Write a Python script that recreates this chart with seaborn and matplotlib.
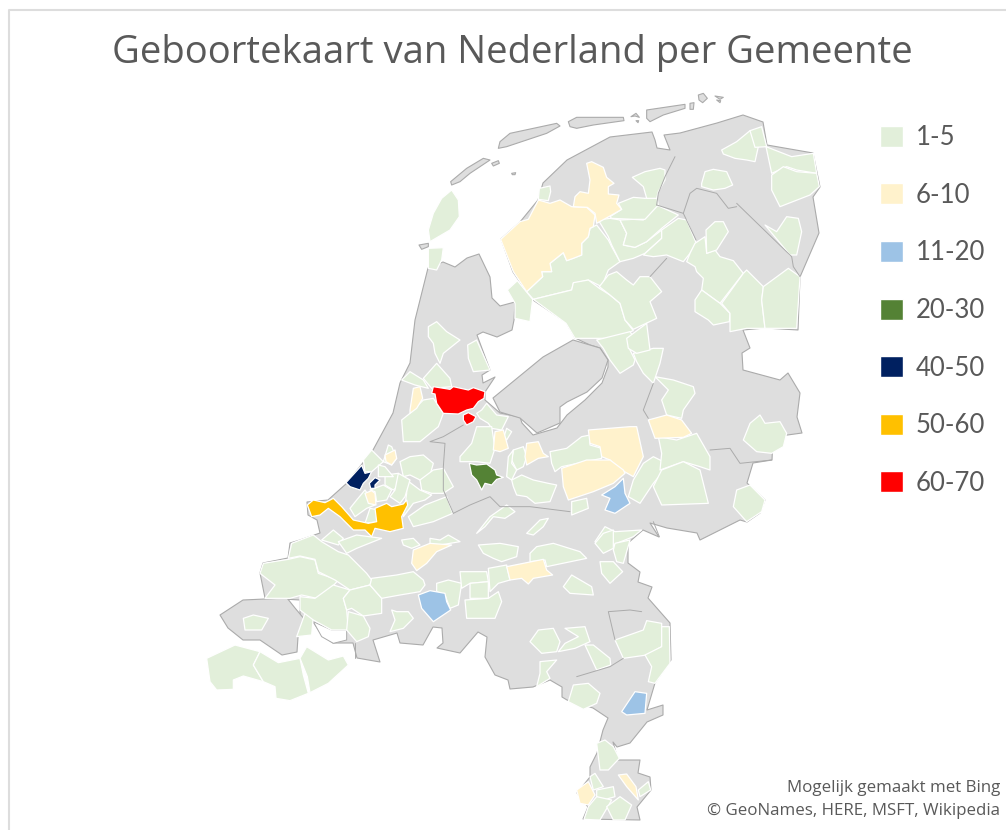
"""Geboortekaart van Nederland per gemeente, hand traced choropleth."""

import matplotlib
matplotlib.use("Agg")
import matplotlib.pyplot as plt
import seaborn as sns
from matplotlib.patches import Patch

TITLE = "Geboortekaart van Nederland per Gemeente"
CREDITS = ["Mogelijk gemaakt met Bing", "© GeoNames, HERE, MSFT, Wikipedia"]
CLASSES = ["1-5", "6-10", "11-20", "20-30", "40-50", "50-60", "60-70"]
COLORS = ["#E2EFDA", "#FFF2CC", "#9DC3E6", "#548235", "#002060", "#FFC000", "#FF0000"]
LAND_COLOR = "#DEDEDE"
EDGE_COLOR = "#ABABAB"

# outlines in map units
LAND = [(428,268),(443,262),(455,267),(467,258),(479,254),(490,277),(492,298),(500,306),(515,302),
        (514,320),(512,330),(497,337),(483,332),(477,335),(490,370),(482,375),(483,383),(495,377),
        (485,392),(485,400),(500,413),(520,417),(522,423),(533,435),(557,428),(567,415),(585,400),
        (602,383),(608,367),(608,360),(600,348),(590,345),(575,338),(567,323),(533,300),(527,292),
        (513,272),(501,239),(520,222),(538,200),(543,183),(567,160),(610,137),(652,132),(655,140),
        (657,148),(670,150),(664,135),(680,133),(717,123),(743,115),(763,122),(767,145),(813,153),
        (820,187),(813,197),(819,233),(800,277),(798,330),(765,328),(743,330),(750,348),(742,353),
        (743,370),(780,380),(788,373),(800,393),(797,417),(802,433),(773,437),(772,460),(753,463),
        (747,483),(765,500),(760,513),(747,522),(740,520),(700,540),(697,533),(667,528),(650,523),
        (659,537),(643,530),(628,543),(628,563),(640,572),(638,582),(652,587),(648,598),(670,623),
        (671,660),(655,683),(647,710),(663,705),(663,715),(647,722),(630,743),(617,747),(613,742),
        (618,760),(640,760),(638,773),(650,777),(651,790),(637,807),(640,820),(583,819),(588,807),
        (577,793),(590,777),(590,767),(597,753),(603,730),(608,718),(593,708),(567,700),(562,697),
        (562,687),(550,680),(533,687),(510,689),(508,680),(495,675),(485,657),(487,637),(478,632),
        (460,653),(437,648),(443,643),(442,628),(433,627),(423,645),(400,643),(397,633),(373,640),
        (380,662),(357,658),(353,643),(333,643),(322,635),(313,622),(300,620),(300,600),(265,598),
        (260,573),(263,563),(288,558),(290,543),(300,540),(320,533),(317,520),(308,515),(307,502),
        (328,500),(347,483),(373,450),(393,413),(400,383),(410,363),(415,320)]
FLEVOLAND = [(493,398),(543,357),(573,340),(600,348),(608,360),(602,378),(587,392),(567,402),
             (560,407),(560,423),(537,433),(520,418),(500,412)]
WALCHEREN = [(220,615),(243,600),(287,598),(295,608),(305,620),(298,637),(297,652),(282,655),
             (260,640),(243,640),(228,628)]

N_ISLANDS = [
    [(155,285),(152,275),(200,235),(250,205),(270,210),(240,230),(210,250),(180,275)],
    [(275,220),(295,212),(298,220),(280,228)],
    [(335,250),(347,248),(345,254),(337,254)],
    [(295,175),(300,155),(330,130),(470,100),(480,108),(440,130),(380,150),(320,170)],
    [(505,95),(530,82),(670,82),(672,92),(580,105),(530,115),(510,110)],
    [(740,60),(855,43),(855,55),(790,75),(750,95),(740,85)],
    [(870,40),(882,38),(880,58),(870,58)],
    [(895,15),(910,10),(922,25),(908,38),(897,30)],
    [(945,18),(970,22),(960,28)],
    [(950,30),(962,32),(960,38)],
    [(693,80),(708,70),(718,82),(705,78)],
    [(708,92),(716,92),(714,98)],
    [(57,465),(85,460),(85,470),(65,478)],
    [(500,700),(520,695),(525,712),(510,718)],
]
N_LOW = [
    [(155,300),(175,330),(178,380),(150,420),(90,455),(85,420),(100,370),(125,325)],
    [(85,475),(130,473),(125,510),(110,540),(85,535)],
    [(418,295),(450,288),(452,305),(445,332),(415,328)],
    [(322,600),(352,572),(398,628),(390,695),(345,685),(345,640)],
    [(380,605),(428,560),(425,545),(455,545),(450,520),(490,488),(500,512),(545,495),(545,460),
     (565,440),(570,415),(590,405),(625,450),(635,470),(660,515),(625,540),(605,590),(565,570),
     (520,580),(515,600),(400,628)],
    [(595,390),(630,385),(660,390),(680,430),(670,465),(705,472),(740,455),(785,420),(785,445),
     (735,490),(700,505),(660,515),(635,465),(625,440)],
    [(660,390),(700,388),(730,390),(770,345),(835,375),(785,415),(740,455),(705,472),(670,465),(680,430)],
    [(630,380),(665,358),(655,340),(700,322),(735,325),(770,320),(775,345),(735,388),(700,388),(635,385)],
    [(697,262),(735,245),(780,235),(795,240),(795,270),(775,305),(770,325),(740,325),(730,290)],
    [(785,420),(835,385),(860,390),(888,458),(870,490),(850,515),(800,495),(760,500),(730,495),(785,445)],
    [(400,628),(515,600),(520,578),(565,570),(598,595),(630,615),(660,640),(675,690),(700,722),
     (640,745),(570,745),(525,745),(498,700)],
    [(598,590),(625,555),(650,545),(680,570),(700,585),(720,560),(750,560),(785,605),(750,635),
     (770,685),(700,718),(675,690),(660,640),(630,615)],
    [(860,515),(885,530),(890,545),(910,565),(905,600),(960,640),(1030,550),(1000,512),(960,500),
     (945,480),(920,490),(915,440),(885,460),(870,490)],
    [(920,490),(918,420),(945,395),(970,395),(985,425),(950,480)],
    [(905,600),(960,640),(990,670),(988,695),(940,705),(925,690),(885,665),(885,630)],
    [(965,640),(1030,550),(1040,540),(1090,590),(1085,630),(1095,715),(1040,715),(990,725),(990,670)],
    [(1085,630),(1090,590),(1165,535),(1200,560),(1190,715),(1095,715)],
    [(905,280),(915,245),(940,238),(980,245),(998,285),(975,295),(940,300),(905,290)],
    [(965,180),(1010,155),(1050,122),(1075,170),(1065,215),(1040,210),(1005,205),(970,192)],
    [(1050,122),(1085,110),(1100,170),(1065,172)],
    [(1098,170),(1175,200),(1240,190),(1250,250),(1190,240),(1160,230),(1115,250)],
    [(1115,255),(1150,230),(1190,245),(1250,250),(1258,290),(1230,315),(1140,350),(1115,300)],
    [(1095,405),(1130,425),(1160,380),(1195,385),(1205,425),(1190,495),(1170,495)],
]
N_MID = [
    [(302,448),(360,395),(385,388),(415,330),(450,340),(480,330),(515,350),(560,352),(585,375),
     (580,410),(570,415),(565,440),(545,460),(545,495),(520,505),(500,512),(490,488),(450,520),
     (455,545),(425,545),(428,560),(380,605),(340,545)],
    [(560,220),(575,215),(610,232),(620,262),(642,280),(625,290),(625,312),(657,315),(650,340),
     (665,358),(630,378),(590,400),(585,370),(562,352),(520,350),(525,320),(540,305),(565,310),(570,270)],
]
N_BORDERS = [
    [(1010,340),(1175,500),(1180,530),(1200,560)],
    [(770,345),(850,370),(870,310),(890,295),(950,310),(985,355),(1010,350)],
    [(825,200),(795,260),(775,310),(770,345)],
    [(750,560),(800,505)],
    [(850,370),(888,450)],
]

# middle part (x0=300, y0=320, scale 3)
M_LOW = [
    [(385,20),(410,5),(440,35),(480,60),(430,100),(420,130),(405,100),(400,70),(385,50)],
    [(503,75),(530,60),(570,150),(520,155),(505,115)],
    [(310,175),(330,155),(370,180),(385,205),(345,195),(305,180)],
    [(370,175),(410,130),(450,175),(455,200),(395,205)],
    [(305,300),(330,280),(370,240),(400,235),(430,280),(415,320),(360,365),(310,365)],
    [(545,270),(560,250),(590,285),(625,290),(605,330),(575,325),(565,310),(540,295),(530,280)],
    [(530,320),(575,320),(585,385),(570,430),(530,425),(480,425),(480,410),(515,370)],
    [(612,350),(620,325),(635,335),(620,360)],
    [(640,390),(670,380),(680,410),(670,440),(650,450),(635,420)],
    [(625,410),(640,390),(635,430),(650,450),(635,480),(620,470)],
    [(750,395),(800,385),(845,350),(870,345),(870,375),(905,385),(905,415),(785,440),(765,455),(755,430)],
    [(190,420),(215,390),(250,425),(215,455),(195,455)],
    [(265,375),(275,380),(290,415),(275,435),(250,425)],
    [(300,425),(330,410),(370,405),(400,430),(390,465),(360,480),(330,465),(310,470)],
    [(360,480),(400,450),(430,445),(460,500),(430,520),(395,520),(365,510)],
    [(255,465),(295,460),(305,490),(280,510),(255,495)],
    [(235,435),(255,440),(280,470),(250,470),(235,470)],
    [(210,510),(250,495),(275,510),(260,540),(230,545),(225,515)],
    [(170,540),(195,510),(225,555),(200,565),(165,590),(150,565)],
    [(320,480),(360,510),(395,525),(375,540),(340,550),(310,590),(320,520)],
    [(325,590),(375,555),(440,530),(458,580),(400,605),(340,620)],
    [(210,565),(235,570),(235,605),(195,610)],
    [(295,460),(330,480),(315,530),(300,550),(270,530),(285,510)],
    [(640,500),(635,480),(665,465),(700,480),(745,490),(770,495),(750,545),(705,550),(680,530),(650,525)],
    [(815,545),(860,535),(865,565),(815,585)],
    [(1000,480),(1030,430),(1060,410),(1100,430),(1085,460),(1060,490),(1020,550),(985,530)],
    [(1075,350),(1130,360),(1190,340),(1230,410),(1230,450),(1200,440),(1150,425),(1080,450),(1085,400)],
    [(1060,500),(1085,450),(1150,425),(1200,450),(1225,550),(1085,555)],
    [(1065,170),(1120,180),(1180,200),(1185,220),(1150,270),(1145,295),(1100,285),(1085,240),(1105,210)],
    [(1000,100),(1060,85),(1090,85),(1080,130),(1060,190),(1030,160),(1010,125)],
    [(890,60),(990,35),(1000,50),(985,80),(1005,120),(1000,135),(960,160),(930,120),(910,85)],
    [(980,55),(1040,10),(1045,50),(1050,90),(1010,100),(985,85)],
    [(1330,360),(1350,310),(1380,285),(1395,310),(1440,305),(1460,340),(1450,380),(1415,400),(1370,395)],
    [(1300,560),(1310,510),(1350,495),(1395,540),(1385,575),(1340,605)],
    [(530,640),(570,590),(620,555),(645,575),(615,595),(580,590),(555,620)],
    [(680,640),(720,600),(745,595),(730,620),(700,645)],
    [(885,665),(915,620),(945,635),(1025,630),(1000,650),(950,670),(910,695)],
]
M_MID = [
    [(330,270),(340,205),(360,200),(368,235),(350,265),(330,280)],
    [(255,405),(285,390),(290,415),(275,435),(258,425)],
    [(195,520),(215,512),(225,520),(228,555),(205,550)],
    [(1045,300),(1100,285),(1145,300),(1175,340),(1150,352),(1065,355)],
    [(865,330),(990,320),(1010,320),(1030,410),(1000,470),(965,450),(930,420),(905,410),(900,380),(870,370)],
    [(785,445),(860,420),(930,420),(970,450),(975,460),(940,490),(880,515),(805,540),(790,500)],
    [(585,335),(610,330),(625,385),(600,395),(580,390)],
    [(680,370),(715,365),(730,400),(745,410),(715,415),(680,435),(675,410)],
]
M_BLUE = [[(905,525),(945,500),(970,475),(975,520),(990,550),(945,580),(915,570),(930,535)]]
M_GREEN = [[(508,430),(530,435),(560,432),(585,450),(590,465),(610,472),(590,478),(575,495),(555,490),
            (545,510),(530,480),(515,465)]]
M_NAVY = [
    [(138,488),(185,436),(195,460),(215,455),(205,475),(190,490),(180,510),(150,500)],
    [(208,490),(225,473),(240,480),(225,495),(225,505),(212,505)],
]
M_ORANGE = [[(22,555),(40,540),(75,548),(100,535),(125,560),(160,600),(205,610),(230,605),(225,565),
             (260,550),(275,560),(310,552),(320,540),(323,555),(305,590),(310,625),(270,635),(225,625),
             (215,650),(195,630),(160,630),(120,590),(85,565),(60,585),(35,590)]]
M_RED = [
    [(395,220),(400,200),(450,208),(460,200),(505,210),(520,203),(555,215),(552,235),(535,245),
     (520,265),(500,270),(475,282),(430,280),(410,250),(405,222)],
    [(490,285),(505,278),(528,290),(520,305),(500,315),(490,300)],
]
M_BORDERS = [
    [(1060,190),(1030,270),(1045,295)],
    [(1230,390),(1290,385),(1320,430),(1415,420)],
    [(460,580),(430,510),(430,440),(435,370),(390,365),(430,350),(490,315)],
    [(460,580),(510,555),(570,530),(600,560),(690,560),(810,575)],
    [(1060,605),(1078,650)],
]

# south part (x0=200, y0=530, scale 3)
S_WATER = [[(340,275),(395,300),(440,300),(440,330),(400,340),(365,320)]]
S_LOW = [
    [(20,385),(105,345),(180,365),(160,405),(190,455),(130,438),(100,450),(100,478),(50,480),(30,455)],
    [(180,365),(235,398),(300,385),(310,435),(325,490),(270,512),(228,505),(225,470),(190,455),(160,405)],
    [(300,385),(320,350),(385,390),(430,378),(445,405),(385,460),(330,488),(322,440)],
    [(130,265),(160,255),(205,265),(185,300),(135,300)],
    [(290,320),(315,250),(340,260),(335,315)],
    [(180,130),(190,100),(265,88),(300,80),(345,90),(355,130),(415,150),(375,195),(350,205),(305,195),
     (270,205),(195,205),(225,165)],
    [(265,85),(275,40),(340,15),(365,35),(415,65),(445,75),(500,130),(515,150),(510,165),(450,180),
     (405,150),(355,125),(345,88),(300,78)],
    [(300,200),(345,205),(400,165),(450,180),(430,205),(440,240),(445,300),(395,300),(340,270),(300,240)],
    [(430,205),(450,180),(510,165),(545,205),(545,250),(490,258),(455,235),(440,240)],
    [(445,245),(490,258),(510,295),(505,320),(470,335),(440,300)],
    [(515,145),(590,135),(640,125),(670,150),(675,165),(660,185),(600,195),(545,205),(510,165)],
    [(575,240),(590,245),(625,245),(640,265),(610,295),(570,305),(585,270)],
    [(710,160),(745,150),(785,160),(775,225),(750,235),(735,195),(710,185)],
    [(780,125),(860,125),(865,155),(810,160),(785,175)],
    [(810,160),(865,155),(865,205),(810,205)],
    [(795,210),(865,205),(895,185),(905,215),(885,265),(800,265)],
    [(865,115),(920,105),(930,150),(895,160),(870,185)],
    [(990,70),(1010,50),(1060,40),(1140,65),(1160,85),(1040,110),(1035,90),(990,95)],
    [(835,45),(900,40),(955,50),(950,80),(905,95),(880,85),(850,70)],
    [(1090,170),(1115,135),(1175,170),(1180,195),(1110,190)],
    [(1200,95),(1240,95),(1268,125),(1230,160),(1205,130)],
    [(990,335),(1015,300),(1060,295),(1080,335),(1070,365),(1025,370)],
    [(1095,295),(1155,290),(1170,335),(1125,355),(1075,365),(1095,340),(1135,320)],
    [(1155,345),(1180,345),(1230,385),(1232,405),(1190,420)],
    [(1020,395),(1070,390),(1040,425),(1050,445),(1010,470),(1020,430)],
    [(1245,330),(1330,300),(1340,272),(1385,280),(1385,350),(1340,375),(1270,385)],
    [(1385,290),(1408,290),(1410,400),(1365,460),(1345,455),(1355,410),(1335,375),(1385,350)],
    [(1120,465),(1165,460),(1200,490),(1190,520),(1150,538),(1105,515)],
    [(1190,640),(1215,630),(1240,650),(1258,685),(1225,720),(1200,720),(1195,680)],
    [(1170,740),(1185,730),(1210,770),(1180,780)],
    [(1190,780),(1240,770),(1245,800),(1210,810),(1190,800)],
    [(1165,830),(1190,800),(1235,810),(1200,870),(1152,868)],
    [(1220,830),(1260,800),(1295,825),(1275,870),(1240,870)],
    [(1315,780),(1345,755),(1352,780),(1320,800)],
    [(605,30),(640,25),(660,45),(635,55),(610,45)],
    [(690,25),(720,30),(745,15),(780,35),(720,45),(690,45)],
    [(1185,40),(1210,10),(1240,0),(1240,55),(1210,70)],
    [(1245,40),(1290,30),(1270,100),(1250,95),(1240,60)],
    [(365,30),(400,0),(430,25),(415,45)],
    [(415,35),(470,15),(545,25),(470,55),(440,70)],
]
S_MID = [
    [(640,60),(690,40),(755,45),(710,65),(680,100),(650,122),(635,100)],
    [(920,110),(970,100),(1030,88),(1040,120),(1058,135),(1000,145),(985,162),(965,145),(930,150)],
    [(1255,735),(1280,732),(1308,770),(1315,810),(1280,770)],
    [(1130,780),(1165,755),(1185,795),(1165,825),(1140,820)],
]
S_BLUE = [
    [(655,195),(690,182),(735,190),(740,215),(752,240),(700,275),(665,235)],
    [(1265,545),(1305,485),(1340,490),(1335,550),(1280,555)],
]
S_BORDERS = [
    [(1325,245),(1290,240),(1225,245),(1245,330)],
    [(1130,440),(1230,410),(1270,385)],
    [(465,340),(465,385)],
]


def to_map(points, x0, y0):
    return [(x0 + x / 3, y0 + y / 3) for x, y in points]


def fill_all(ax, polys, x0, y0, color, edge="white", lw=0.9):
    for poly in polys:
        xs, ys = zip(*to_map(poly, x0, y0))
        ax.fill(xs, ys, facecolor=color, edgecolor=edge, linewidth=lw, joinstyle="round")


def line_all(ax, lines, x0, y0):
    for line in lines:
        xs, ys = zip(*to_map(line, x0, y0))
        ax.plot(xs, ys, color=EDGE_COLOR, linewidth=0.7)


sns.set_theme(style="white")
plt.rcParams["font.family"] = ["Open Sans", "DejaVu Sans"]

fig = plt.figure(figsize=(10.06, 8.30), dpi=100)
ax = fig.add_axes([0, 0, 1, 1])
ax.set_xlim(0, 1006)
ax.set_ylim(830, 0)
ax.axis("off")

# land first, then borders, then coloured municipalities on top
for poly in [LAND, FLEVOLAND, WALCHEREN]:
    xs, ys = zip(*poly)
    ax.fill(xs, ys, facecolor=LAND_COLOR, edgecolor=EDGE_COLOR, linewidth=0.8, joinstyle="round")
fill_all(ax, N_ISLANDS, 400, 90, LAND_COLOR, EDGE_COLOR, 0.8)
fill_all(ax, S_WATER, 200, 530, "white", EDGE_COLOR, 0.7)
line_all(ax, N_BORDERS, 400, 90)
line_all(ax, M_BORDERS, 300, 320)
line_all(ax, S_BORDERS, 200, 530)

fill_all(ax, N_LOW, 400, 90, COLORS[0])
fill_all(ax, M_LOW, 300, 320, COLORS[0])
fill_all(ax, S_LOW, 200, 530, COLORS[0])
fill_all(ax, N_MID, 400, 90, COLORS[1])
fill_all(ax, M_MID, 300, 320, COLORS[1])
fill_all(ax, S_MID, 200, 530, COLORS[1])
fill_all(ax, M_BLUE, 300, 320, COLORS[2])
fill_all(ax, S_BLUE, 200, 530, COLORS[2])
fill_all(ax, M_GREEN, 300, 320, COLORS[3])
fill_all(ax, M_NAVY, 300, 320, COLORS[4])
fill_all(ax, M_ORANGE, 300, 320, COLORS[5])
fill_all(ax, M_RED, 300, 320, COLORS[6])

# chart frame, cut off by the screenshot on the right and bottom
ax.plot([9.5, 9.5, 1006], [830, 10.5, 10.5], color="#DDDDDD", linewidth=1.5)

ax.text(512.5, 53, TITLE, ha="center", va="center", fontsize=27.5, color="#595959")
ax.text(1000, 788, CREDITS[0], ha="right", va="center", fontsize=12.15, color="#595959")
ax.text(1000, 811, CREDITS[1], ha="right", va="center", fontsize=12.15, color="#595959")

handles = [Patch(facecolor=c, edgecolor="white", label=l) for c, l in zip(COLORS, CLASSES)]
ax.legend(handles=handles, loc="upper left", bbox_to_anchor=(880, 125), bbox_transform=ax.transData,
          frameon=False, prop={"family": "Lato", "size": 18.5}, labelspacing=1.27, handlelength=0.88,
          handleheight=0.88, handletextpad=0.5, borderpad=0, borderaxespad=0, labelcolor="#595959")

fig.savefig("out.png", dpi=100)
